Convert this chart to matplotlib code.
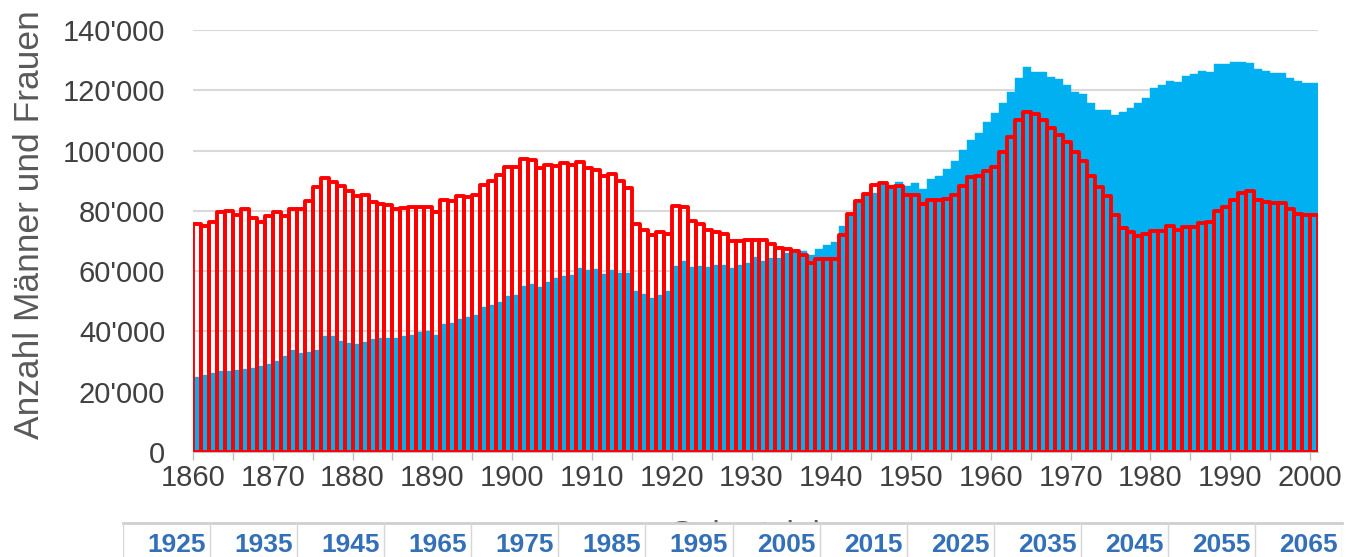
import numpy as np
import matplotlib
matplotlib.use("Agg")
import matplotlib.pyplot as plt
from matplotlib.ticker import FuncFormatter
from matplotlib import font_manager
from matplotlib.font_manager import FontProperties
from matplotlib.patches import Rectangle

# --- data (values in thousands) ---
years = np.arange(1860, 2001)

blue_vals = [
    25.0, 25.5, 26.3, 27.0, 27.0, 27.3, 27.6, 28.0, 28.5, 29.2,   # 1860
    30.3, 31.9, 33.8, 32.9, 33.2, 33.7, 38.6, 38.6, 36.9, 36.1,   # 1870
    35.8, 36.5, 37.5, 37.7, 37.8, 37.9, 38.5, 38.8, 39.8, 40.0,   # 1880
    38.8, 42.5, 42.9, 44.1, 44.7, 45.5, 48.2, 48.8, 49.7, 51.9,   # 1890
    52.1, 55.2, 55.7, 54.9, 56.4, 57.6, 58.4, 58.8, 61.2, 60.4,   # 1900
    60.7, 58.9, 60.4, 59.3, 59.3, 53.4, 52.4, 51.2, 52.1, 53.4,   # 1910
    61.7, 63.2, 61.3, 61.7, 61.3, 62.0, 62.0, 61.2, 62.0, 62.8,   # 1920
    64.6, 63.5, 64.3, 64.3, 66.1, 66.0, 66.7, 65.4, 67.3, 68.7,   # 1930
    69.8, 75.0, 78.5, 82.5, 85.3, 86.0, 88.6, 88.6, 89.7, 88.3,   # 1940
    89.4, 87.3, 90.7, 91.4, 93.8, 96.7, 100.3, 103.4, 105.7, 109.6,  # 1950
    112.6, 115.9, 119.5, 124.2, 127.8, 126.2, 126.2, 124.3, 123.6, 121.9,  # 1960
    119.3, 118.7, 115.7, 113.5, 113.3, 111.8, 112.9, 114.2, 115.7, 117.5,  # 1970
    120.7, 121.8, 123.2, 122.9, 124.8, 125.3, 126.4, 126.2, 128.7, 128.6,  # 1980
    129.5, 129.4, 128.9, 127.1, 126.4, 125.6, 125.6, 124.0, 123.1, 122.3,  # 1990
    122.3,                                                         # 2000
]

red_vals = [
    75.6, 74.9, 76.2, 79.5, 79.8, 78.7, 80.7, 77.6, 76.2, 78.2,   # 1860
    79.5, 78.2, 80.6, 80.6, 83.4, 88.0, 90.9, 89.5, 88.1, 86.5,   # 1870
    84.8, 85.4, 82.8, 82.3, 81.9, 80.7, 81.0, 81.4, 81.3, 81.4,   # 1880
    79.5, 83.7, 83.2, 85.0, 84.5, 85.2, 88.7, 90.0, 91.9, 94.7,   # 1890
    94.4, 97.3, 96.8, 94.2, 95.1, 95.0, 95.8, 95.1, 96.2, 94.2,   # 1900
    93.7, 91.7, 92.3, 89.8, 87.6, 75.8, 73.8, 72.1, 72.9, 72.3,   # 1910
    81.5, 81.3, 76.5, 75.6, 73.8, 72.9, 72.3, 69.9, 69.9, 70.2,   # 1920
    70.2, 70.2, 69.0, 67.7, 67.4, 66.6, 65.5, 62.7, 64.1, 64.1,   # 1930
    64.1, 72.1, 79.0, 83.2, 85.7, 88.7, 89.2, 87.8, 88.1, 85.4,   # 1940
    85.1, 82.4, 83.7, 83.5, 83.9, 85.4, 88.4, 91.2, 91.7, 93.1,   # 1950
    94.6, 99.5, 104.4, 110.1, 112.9, 112.1, 110.0, 107.5, 105.3, 102.9,  # 1960
    99.5, 96.4, 91.5, 87.8, 84.8, 78.7, 74.3, 73.0, 71.8, 72.3,   # 1970
    73.4, 73.2, 74.9, 73.8, 74.7, 74.7, 76.0, 76.3, 80.1, 81.2,   # 1980
    83.7, 85.9, 86.7, 83.7, 82.9, 82.6, 82.6, 80.7, 79.1, 78.7,   # 1990
    78.7,                                                          # 2000
]

table_years = ['1925', '1935', '1945', '1965', '1975', '1985', '1995',
               '2005', '2015', '2025', '2035', '2045', '2055', '2065']

plt.rcParams['font.family'] = ['Liberation Sans', 'DejaVu Sans']


def has_font(name):
    try:
        font_manager.findfont(FontProperties(family=name), fallback_to_default=False)
        return True
    except ValueError:
        return False


W, H = 1351, 557
fig = plt.figure(figsize=(W / 100, H / 100), dpi=100)
ax = fig.add_axes([193 / W, 105 / H, 1125 / W, 422 / H])

blue = np.array(blue_vals) * 1000
red = np.array(red_vals) * 1000

ax.bar(years, blue, width=1.0, align='edge', color='#00B0F0',
       edgecolor='#00B0F0', linewidth=0.3, zorder=2)
ax.bar(years, red, width=1.0, align='edge', facecolor='none',
       edgecolor='#FF0000', linewidth=2.8, joinstyle='round', zorder=3)

ax.set_xlim(1860, 2001)
ax.set_ylim(0, 140000)

ax.set_xticks(range(1860, 2001, 10))
ax.set_xticks(range(1865, 2001, 10), minor=True)
ax.set_yticks(range(0, 140001, 20000))
ax.yaxis.set_major_formatter(FuncFormatter(lambda v, p: f"{int(v):,}".replace(',', "'")))

ax.tick_params(axis='x', which='both', length=6, width=1, color='#bfbfbf',
               labelsize=21, labelcolor='#404040', pad=3)
ax.tick_params(axis='y', length=0, labelsize=21, labelcolor='#404040', pad=20)

ax.grid(axis='y', color='#d9d9d9', linewidth=1.5)
ax.set_axisbelow(True)
for s in ['left', 'top', 'right']:
    ax.spines[s].set_visible(False)
ax.spines['bottom'].set_color('#bfbfbf')

ax.set_ylabel("Anzahl Männer und Frauen", fontsize=25.5, color='#595959')
ax.yaxis.set_label_coords(-0.131, 0.538)
# x label sits mostly behind the selector strip, only its top peeks out
ax.set_xlabel("Geburtsjahr", fontsize=24, color='#595959', labelpad=20)

# --- year selector strip at the bottom (cut off by the image edge) ---
tab = fig.add_axes([123 / W, -0.05, (1342 - 123) / W, 0.111], zorder=5)
tab.set_xlim(0, len(table_years))
tab.set_ylim(0, 1)
tab.set_xticks([])
tab.set_yticks([])
for s in tab.spines.values():
    s.set_visible(False)
tab.add_patch(Rectangle((0, 0), 1, 1, transform=tab.transAxes,
                        facecolor='white', edgecolor='none', zorder=0))
tab.axhline(1, color='#cfcfcf', linewidth=2, clip_on=False)
for k in range(len(table_years) + 1):
    tab.axvline(k, color='#d6d6d6', linewidth=1)

if has_font('Liberation Sans Narrow'):
    tfam, tsize = ['Liberation Sans Narrow', 'DejaVu Sans'], 23
else:
    tfam, tsize = ['Liberation Sans', 'DejaVu Sans'], 19
for k, lab in enumerate(table_years):
    tab.text(k + 1 - 0.05, 0.64, lab, ha='right', va='center', fontsize=tsize,
             fontweight='bold', color='#3470b8', family=tfam)

fig.savefig('out.png', dpi=100)
